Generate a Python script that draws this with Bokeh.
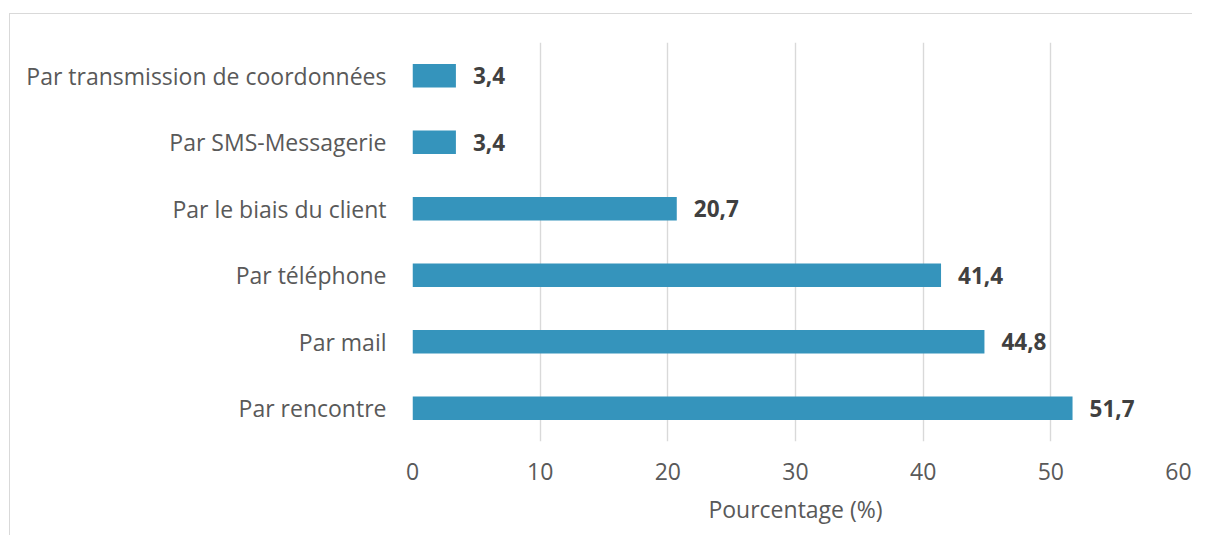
from bokeh.plotting import figure
from bokeh.models import FactorRange, Range1d, ColumnDataSource, InlineStyleSheet
from bokeh.core.properties import value
from bokeh.embed import file_html
from bokeh.resources import INLINE

categories = ["Par transmission de coordonnées", "Par SMS-Messagerie", "Par le biais du client",
              "Par téléphone", "Par mail", "Par rencontre"]
values = [3.4, 3.4, 20.7, 41.4, 44.8, 51.7]
value_labels = ["3,4", "3,4", "20,7", "41,4", "44,8", "51,7"]
x_ticks = [0, 10, 20, 30, 40, 50, 60]
x_title = "Pourcentage (%)"

FONT = "Open Sans"
LABEL_COLOR = "#595959"
BAR_COLOR = "#3594BC"

src = ColumnDataSource(dict(cat=categories, val=values, lab=value_labels))

p = figure(width=1192, height=535, output_backend="svg", toolbar_location=None,
           y_range=FactorRange(factors=list(reversed(categories)), range_padding=0),
           x_range=Range1d(0, 60),
           min_border_left=412, min_border_right=14, min_border_top=42, min_border_bottom=94)
p.outline_line_color = None
p.background_fill_color = "white"
p.border_fill_color = "white"

p.hbar(y="cat", right="val", left=0, height=0.35, source=src, fill_color=BAR_COLOR,
       line_color=None)
p.text(x="val", y="cat", text="lab", source=src, x_offset=17, text_align="left",
       text_baseline="middle", text_font=value(FONT), text_font_style="bold",
       text_font_size="22.5px", text_color="#404040")

p.ygrid.grid_line_color = None
p.xgrid.grid_line_color = "#D9D9D9"
p.xgrid.grid_line_width = 1.4
p.xaxis.ticker = x_ticks

for ax in (p.xaxis[0], p.yaxis[0]):
    ax.axis_line_color = None
    ax.major_tick_line_color = None
    ax.minor_tick_line_color = None
    ax.major_tick_out = 0
    ax.major_tick_in = 0
    ax.major_label_text_font = FONT
    ax.major_label_text_font_size = "23px"
    ax.major_label_text_color = LABEL_COLOR

p.yaxis.major_label_standoff = 26
p.xaxis.major_label_standoff = 21
p.xaxis.axis_label = x_title
p.xaxis.axis_label_text_font = FONT
p.xaxis.axis_label_text_font_size = "23px"
p.xaxis.axis_label_text_font_style = "normal"
p.xaxis.axis_label_text_color = LABEL_COLOR
p.xaxis.axis_label_standoff = 10

# chart border: only the left and top edges are visible in the reference
p.stylesheets = [InlineStyleSheet(css="""
:host { position: relative; }
:host::after {
  content: "";
  position: absolute;
  left: 9px; top: 13px; right: 0; bottom: 0;
  border-left: 1.5px solid #D9D9D9;
  border-top: 1.5px solid #D9D9D9;
  pointer-events: none;
}
""")]

open("out.html", "w").write(file_html(p, INLINE))
